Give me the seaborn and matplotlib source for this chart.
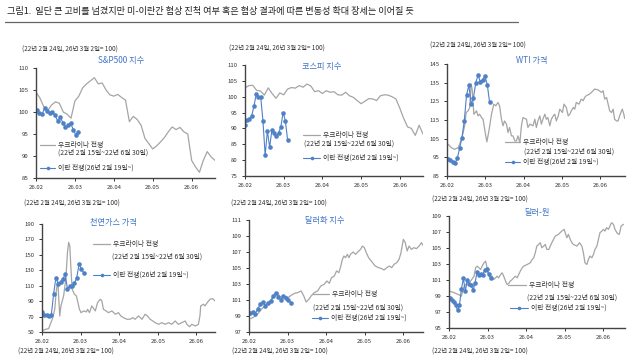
import numpy as np
import matplotlib
matplotlib.use("Agg")
import matplotlib.pyplot as plt
import seaborn as sns
from matplotlib.lines import Line2D

sns.set_theme(style="white")
plt.rcParams["font.family"] = ["Noto Sans CJK KR", "DejaVu Sans"]

# ---------------- data ----------------
month_labels = ["26.02", "26.03", "26.04", "26.05", "26.06"]
title_text = "그림1.  일단 큰 고비를 넘겼지만 미-이란간 협상 진척 여부 혹은 협상 결과에 따른 변동성 확대 장세는 이어질 듯"
note_text = "(22년 2월 24일, 26년 3월 2일= 100)"
ukr_label = "우크라이나 전쟁"
ukr_period = "(22년 2월 15일~22년 6월 30일)"
iran_label = "이란 전쟁(26년 2월 19일~)"

# S&P500 (x = months from 26.02)
spx_ukr_x = [round(0.1 * i, 2) for i in range(47)]
spx_ukr = [104.5, 103.2, 101.2, 100.3, 101.6, 102.3, 102.0, 100.0, 99.5, 98.6,
           102.5, 103.6, 105.5, 106.4, 107.1, 107.8, 106.4, 106.6, 105.0, 103.9,
           103.6, 104.0, 103.3, 102.7, 97.8, 99.0, 98.3, 97.0, 94.0, 92.8,
           91.6, 92.3, 93.2, 94.2, 95.5, 96.6, 96.0, 96.5, 95.5, 95.0,
           89.0, 87.5, 86.3, 89.0, 91.0, 89.8, 89.0]
spx_iran = [100.5, 99.7, 99.5, 100.8, 100.2, 99.8, 100.0, 99.3, 98.0, 98.8,
            97.6, 96.5, 97.0, 97.5, 96.0, 94.8, 95.5]

# KOSPI
kospi_ukr_x = [round(0.1 * i, 2) for i in range(47)]
kospi_ukr = [102.8, 103.5, 103.6, 102.0, 101.8, 100.5, 102.8, 101.0, 99.5, 101.2,
             100.6, 102.4, 102.9, 102.7, 103.5, 103.0, 104.0, 103.4, 101.6, 101.9,
             101.0, 101.9, 101.4, 101.6, 100.6, 100.5, 101.4, 100.3, 99.8, 98.8,
             97.8, 98.6, 99.4, 99.3, 98.8, 100.3, 100.6, 100.5, 100.0, 99.3,
             96.4, 93.2, 90.5, 90.0, 87.8, 91.0, 88.2]
kospi_iran = [91.2, 92.7, 93.0, 94.0, 97.0, 100.8, 100.0, 100.0, 92.5, 81.5,
              89.3, 84.0, 89.5, 88.5, 87.5, 88.5, 90.5, 95.0, 92.5, 86.5]

# WTI
wti_ukr_x = [0.03, 0.11, 0.20, 0.29, 0.33, 0.40, 0.46, 0.50, 0.55, 0.59, 0.63, 0.66, 0.68, 0.70,
             0.77, 0.81, 0.85, 0.90, 0.94, 1.01, 1.04, 1.10, 1.16, 1.22, 1.27, 1.33, 1.37, 1.42,
             1.46, 1.50, 1.55, 1.59, 1.63, 1.68, 1.72, 1.77, 1.81, 1.85, 1.90, 1.94, 1.98, 2.07,
             2.11, 2.16, 2.24, 2.29, 2.33, 2.37, 2.42, 2.46, 2.50, 2.55, 2.59, 2.63, 2.68, 2.72,
             2.77, 2.81, 2.85, 2.90, 2.94, 3.01, 3.05, 3.11, 3.16, 3.20, 3.24, 3.29, 3.33, 3.37,
             3.44, 3.50, 3.55, 3.59, 3.63, 3.72, 3.81, 3.85, 3.94, 4.03, 4.07, 4.11, 4.16, 4.20,
             4.24, 4.29, 4.33, 4.37, 4.42, 4.46, 4.50, 4.55, 4.57, 4.61, 4.63]
wti_ukr = [102.0, 100.2, 99.3, 100.2, 102.0, 106.5, 111.9, 119.0, 119.9, 121.7, 134.3, 130.7, 124.4, 118.1,
           119.9, 117.2, 118.1, 116.3, 115.4, 106.5, 103.3, 110.1, 118.1, 123.5, 122.6, 124.4, 122.6, 115.4,
           111.9, 114.5, 112.8, 108.3, 111.0, 106.5, 106.5, 103.8, 103.8, 106.5, 102.9, 111.9, 116.3, 115.4,
           111.0, 112.8, 111.9, 115.4, 111.0, 114.5, 117.2, 112.8, 115.4, 118.1, 115.4, 116.3, 111.9, 115.4,
           117.2, 118.1, 114.5, 117.2, 120.8, 119.0, 123.5, 121.7, 117.2, 118.1, 119.9, 121.7, 120.8, 124.4,
           123.5, 126.2, 125.3, 127.1, 128.0, 128.9, 130.7, 131.6, 131.1, 129.8, 130.7, 126.2, 127.1, 123.5,
           119.9, 119.0, 120.8, 115.4, 114.5, 114.5, 117.2, 119.9, 120.8, 118.1, 115.8]
wti_iran = [94.0, 93.5, 92.5, 92.0, 94.5, 100.0, 105.5, 114.5, 128.5, 133.5,
            123.5, 127.0, 135.0, 139.0, 135.5, 136.5, 138.5, 134.0, 124.5]

# Natural gas
gas_ukr_x = [0.00, 0.09, 0.17, 0.23, 0.28, 0.33, 0.37, 0.41, 0.43, 0.46, 0.49, 0.56, 0.60, 0.63,
             0.66, 0.69, 0.72, 0.75, 0.78, 0.84, 0.89, 0.92, 0.97, 1.01, 1.08, 1.15, 1.18, 1.23,
             1.29, 1.38, 1.44, 1.51, 1.55, 1.59, 1.66, 1.72, 1.81, 1.90, 1.98, 2.04, 2.11, 2.20,
             2.28, 2.35, 2.41, 2.50, 2.59, 2.67, 2.73, 2.80, 2.87, 2.93, 3.02, 3.10, 3.19, 3.28,
             3.36, 3.45, 3.53, 3.62, 3.71, 3.75, 3.82, 3.88, 3.97, 4.05, 4.09, 4.11, 4.18, 4.22,
             4.28, 4.35, 4.42, 4.48]
gas_ukr = [51.3, 53.5, 54.3, 62.1, 68.6, 79.5, 103.3, 116.3, 96.8, 70.8, 83.8, 96.8, 112.0, 129.3,
           153.2, 166.2, 161.8, 131.5, 105.5, 99.0, 96.8, 90.3, 79.5, 75.1, 77.3, 76.0, 79.5, 75.1,
           83.8, 77.3, 88.1, 92.5, 90.3, 79.5, 77.3, 75.1, 77.3, 73.0, 75.1, 70.8, 68.6, 66.5,
           66.5, 68.6, 66.5, 70.8, 66.5, 73.0, 70.8, 66.5, 64.3, 62.1, 60.0, 62.1, 60.0, 62.1,
           60.0, 64.3, 60.0, 62.1, 64.3, 60.0, 56.9, 60.0, 57.8, 60.0, 70.8, 83.8, 86.0, 83.8,
           88.1, 92.5, 93.3, 90.3]
gas_iran = [75.5, 72.0, 71.5, 70.5, 72.0, 99.0, 120.5, 112.0, 114.5, 118.5,
            125.0, 105.5, 109.5, 110.0, 113.0, 120.5, 138.0, 132.0, 126.5]

# Dollar index
dxy_ukr_x = [0.05, 0.14, 0.24, 0.32, 0.41, 0.50, 0.58, 0.67, 0.74, 0.79, 0.85, 0.92, 1.01, 1.09,
             1.18, 1.26, 1.35, 1.42, 1.48, 1.55, 1.61, 1.69, 1.78, 1.86, 1.95, 2.02, 2.08, 2.14,
             2.21, 2.27, 2.33, 2.38, 2.42, 2.46, 2.50, 2.55, 2.59, 2.63, 2.70, 2.76, 2.82, 2.89,
             2.94, 2.99, 3.04, 3.10, 3.19, 3.27, 3.36, 3.44, 3.50, 3.57, 3.64, 3.70, 3.76, 3.83,
             3.89, 3.94, 4.00, 4.05, 4.10, 4.15, 4.21, 4.27, 4.34, 4.41, 4.47, 4.51]
dxy_ukr = [98.67, 98.92, 99.33, 99.83, 100.25, 100.67, 101.0, 101.5, 101.92, 101.5, 101.29, 101.5, 101.29, 101.58,
           101.83, 101.92, 102.13, 101.5, 100.75, 101.08, 101.5, 101.92, 102.13, 102.75, 102.96, 103.38, 103.08, 103.79,
           104.0, 104.63, 104.42, 105.25, 106.08, 106.5, 106.29, 106.71, 106.29, 106.71, 107.0, 106.71, 107.0, 107.33,
           107.75, 107.54, 106.92, 106.29, 105.75, 105.25, 105.04, 104.92, 104.75, 105.04, 105.25, 105.04, 105.46, 105.67,
           106.08, 106.92, 108.58, 108.17, 107.13, 107.75, 107.33, 107.54, 107.42, 107.75, 108.17, 107.83]
dxy_iran = [99.4, 99.5, 99.3, 99.9, 100.5, 100.75, 100.25, 100.67, 100.83, 101.5,
            101.92, 101.42, 101.0, 101.5, 101.29, 101.0, 100.67]

# USD/KRW
krw_ukr_x = [0.02, 0.10, 0.19, 0.28, 0.32, 0.39, 0.47, 0.56, 0.65, 0.69, 0.73, 0.78, 0.82, 0.86,
             0.91, 0.95, 0.99, 1.03, 1.08, 1.12, 1.16, 1.21, 1.25, 1.29, 1.34, 1.38, 1.42, 1.47,
             1.51, 1.55, 1.59, 1.64, 1.68, 1.72, 1.77, 1.81, 1.85, 1.90, 1.94, 2.03, 2.11, 2.16,
             2.20, 2.24, 2.28, 2.33, 2.37, 2.41, 2.46, 2.50, 2.54, 2.59, 2.67, 2.76, 2.84, 2.93,
             2.99, 3.06, 3.10, 3.15, 3.19, 3.23, 3.32, 3.39, 3.45, 3.49, 3.53, 3.58, 3.62, 3.66,
             3.71, 3.75, 3.79, 3.84, 3.88, 3.92, 3.97, 4.01, 4.05, 4.09, 4.14, 4.18, 4.22, 4.27,
             4.31, 4.37, 4.42, 4.47, 4.53]
krw_ukr = [99.6, 99.47, 99.3, 99.1, 98.97, 100.2, 100.64, 100.85, 101.48, 102.52, 102.73, 102.52, 102.31, 102.73,
           103.15, 103.36, 102.52, 101.69, 101.27, 101.48, 101.06, 101.27, 101.48, 101.27, 101.69, 101.9, 101.48, 100.85,
           100.43, 100.56, 100.85, 101.06, 101.27, 101.48, 101.27, 101.69, 102.1, 102.52, 102.73, 102.94, 103.15, 103.57,
           103.78, 104.4, 105.24, 105.45, 105.66, 105.03, 105.24, 105.45, 104.82, 104.82, 105.66, 106.49, 106.7, 107.12,
           107.33, 106.28, 106.7, 106.07, 105.66, 105.45, 105.24, 105.66, 105.24, 104.4, 103.15, 102.94, 103.57, 103.99,
           103.78, 104.19, 104.82, 105.24, 106.07, 106.91, 107.12, 107.33, 107.12, 107.54, 107.33, 107.75, 108.16, 107.96,
           107.33, 106.83, 106.7, 107.75, 107.96]
krw_iran = [98.8, 98.5, 98.2, 97.9, 97.2, 97.9, 99.9, 101.2, 99.6, 101.0, 100.5,
            100.4, 99.7, 100.6, 102.0, 101.6, 101.8, 101.6, 102.3, 102.4, 101.7, 101.2]

# ---------------- styling / layout ----------------
W, H = 640, 360
GRAY = "#a5a5a5"
BLUE = "#4f81c7"
TITLE_BLUE = "#3f74c6"
TXT = "#333333"

fig = plt.figure(figsize=(6.4, 3.6), dpi=100)
fig.patch.set_facecolor("white")


def fx(x):
    return x / W


def fy(y):
    return 1 - y / H


panels = [
    dict(name="S&P500 지수", box=(36, 68, 215, 178), xmax=4.6, yt=np.arange(85, 111, 5),
         ukr_x=spx_ukr_x, ukr=spx_ukr, iran=spx_iran, iran_span=(0.02, 1.09),
         note=(22, 50), title=(121, 60), leg=((40, 145), (58, 153), (40, 168)), hl=15),
    dict(name="코스피 지수", box=(245, 65, 423, 176), xmax=4.6, yt=np.arange(75, 111, 5),
         ukr_x=kospi_ukr_x, ukr=kospi_ukr, iran=kospi_iran, iran_span=(0.0, 1.1),
         note=(229, 49), title=(322, 66), leg=((303, 135), (304, 144), (303, 158)), hl=17),
    dict(name="WTI 가격", box=(447, 64, 625, 176), xmax=4.64, yt=np.arange(85, 146, 10),
         ukr_x=wti_ukr_x, ukr=wti_ukr, iran=wti_iran, iran_span=(0.03, 1.11),
         note=(430, 46), title=(532, 60), leg=((505, 142), (524, 152), (505, 162)), hl=15),
    dict(name="천연가스 가격", box=(42, 224, 215, 332), xmax=4.48, yt=np.arange(50, 191, 20),
         ukr_x=gas_ukr_x, ukr=gas_ukr, iran=gas_iran, iran_span=(0.0, 1.08),
         note=(24, 204), title=(113, 223), leg=((93, 244), (112, 257), (93, 275)), hl=17),
    dict(name="달러화 지수", box=(249, 220, 423, 332), xmax=4.51, yt=np.arange(97, 112, 2),
         ukr_x=dxy_ukr_x, ukr=dxy_ukr, iran=dxy_iran, iran_span=(0.03, 1.09),
         note=(231, 204), title=(325, 220), leg=((313, 294), (313, 308), (312, 318)), hl=16),
    dict(name="달러-원", box=(449, 216, 625, 328), xmax=4.57, yt=np.arange(95, 110, 2),
         ukr_x=krw_ukr_x, ukr=krw_ukr, iran=krw_iran, iran_span=(0.02, 1.08),
         note=(432, 200), title=(537, 213), leg=((508, 285), (527, 298), (510, 308)), hl=18),
]

LEG_FS = 4.9
NOTE_FS = 4.6
for p in panels:
    l, t, r, b = p["box"]
    ax = fig.add_axes([fx(l), fy(b), (r - l) / W, (b - t) / H])
    ax.set_facecolor("none")
    sns.lineplot(x=p["ukr_x"], y=p["ukr"], ax=ax, color=GRAY, lw=0.9, estimator=None)
    ix = np.linspace(p["iran_span"][0], p["iran_span"][1], len(p["iran"]))
    sns.lineplot(x=ix, y=p["iran"], ax=ax, color=BLUE, lw=0.8, estimator=None,
                 marker="o", markersize=3.3, markeredgewidth=0, markerfacecolor=BLUE)
    ax.set_xlim(0, p["xmax"])
    ax.set_ylim(p["yt"][0], p["yt"][-1])
    ax.set_yticks(p["yt"])
    ax.set_yticklabels([str(v) for v in p["yt"]])
    ax.set_xticks(range(len(month_labels)))
    ax.set_xticklabels(month_labels)
    for s in ["top", "right"]:
        ax.spines[s].set_visible(False)
    for s in ["left", "bottom"]:
        ax.spines[s].set_color("#444444")
        ax.spines[s].set_linewidth(1.0)
    ax.tick_params(axis="both", labelsize=4.3, colors=TXT, length=2, width=0.7,
                   direction="out", bottom=True, left=True)
    ax.tick_params(axis="y", pad=3.5)
    ax.tick_params(axis="x", pad=3)
    ax.set_xlabel("")
    ax.set_ylabel("")
    ax.grid(False)

    # texts
    fig.text(fx(p["note"][0]), fy(p["note"][1]), note_text, fontsize=NOTE_FS, color=TXT,
             ha="left", va="center")
    fig.text(fx(p["title"][0]), fy(p["title"][1]), p["name"], fontsize=5.9, color=TITLE_BLUE,
             ha="center", va="center")

    # legends
    (gx, gy), (tx, ty), (bx, by) = p["leg"]
    hlen = p["hl"] / (LEG_FS * 100 / 72)
    lg1 = ax.legend([Line2D([], [], color=GRAY, lw=0.9)], [ukr_label],
                    loc="center left", bbox_to_anchor=(fx(gx), fy(gy)),
                    bbox_transform=fig.transFigure, frameon=False, fontsize=LEG_FS,
                    borderpad=0, borderaxespad=0, handlelength=hlen, handletextpad=0.5,
                    labelcolor=TXT)
    ax.add_artist(lg1)
    ax.legend([Line2D([], [], color=BLUE, lw=0.8, marker="o", markersize=2.6,
                      markeredgewidth=0)], [iran_label],
              loc="center left", bbox_to_anchor=(fx(bx), fy(by)),
              bbox_transform=fig.transFigure, frameon=False, fontsize=LEG_FS,
              borderpad=0, borderaxespad=0, handlelength=hlen, handletextpad=0.5,
              labelcolor=TXT)
    fig.text(fx(tx), fy(ty), ukr_period, fontsize=LEG_FS, color=TXT, ha="left", va="center")

# notes of the next row (cut at the bottom edge)
for nx in (18, 232, 432):
    fig.text(fx(nx), fy(352), note_text, fontsize=NOTE_FS, color=TXT, ha="left", va="center")

# figure title and rule
fig.text(fx(7), fy(11.5), title_text, fontsize=6.6, color="#222222", ha="left", va="center")
fig.add_artist(Line2D([fx(5), fx(518)], [fy(22), fy(22)], transform=fig.transFigure,
                      color="#666666", lw=0.9))

fig.savefig("out.png", dpi=100, facecolor="white")
